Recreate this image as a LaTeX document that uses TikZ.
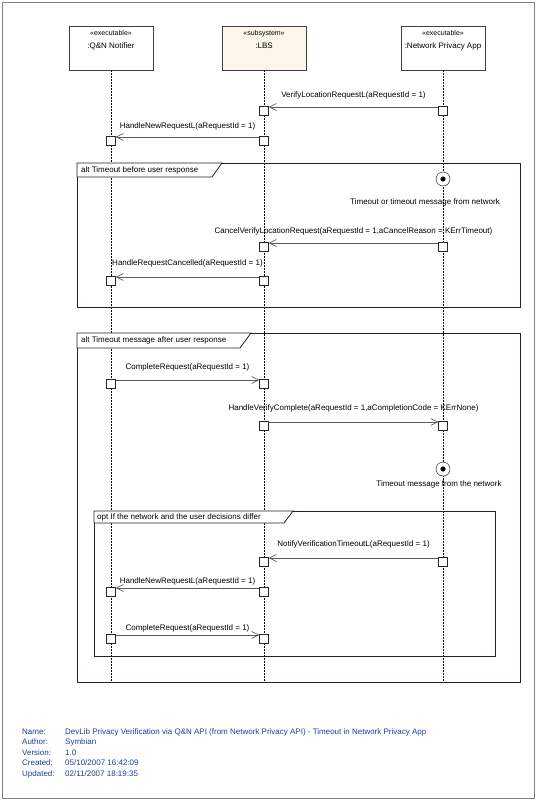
\documentclass[tikz,border=0pt]{standalone}
\usepackage{fontspec}
\setmainfont{Liberation Sans}
\usetikzlibrary{positioning,arrows.meta,calc}

\definecolor{lbsfill}{HTML}{FCF6E8}
\definecolor{footblue}{HTML}{1F3C9C}
\definecolor{framecol}{HTML}{202038}

\tikzset{
  head/.style={draw=black!75, fill=white, minimum width=84pt, minimum height=44pt, inner sep=0pt},
  lifeline/.style={black, dash pattern=on 1.5pt off 1.5pt, line width=0.7pt},
  act/.style={draw=black!85, fill=white, minimum size=9pt, inner sep=0pt, anchor=north},
  msg/.style={draw=black!65, line width=0.9pt, -{Straight Barb[length=7pt,width=7pt,line width=0.6pt]}},
  frm/.style={draw=framecol, line width=0.8pt},
  event/.style={draw, circle, fill=white, minimum size=14pt, inner sep=0pt},
  lbl/.style={font=\fontsize{8}{9}\selectfont, inner sep=0pt},
  stereo/.style={font=\fontsize{7}{8}\selectfont, inner sep=0pt},
}

\begin{document}
\begin{tikzpicture}[x=1pt, y=-1pt]
    \useasboundingbox (0,0) rectangle (536,800);
    \draw[black!50] (2,2) rectangle (534,798);

    % lifeline heads
    \node[head] (qn) at (111,48) {};
    \node[head, fill=lbsfill] (lbs) at (264,48) {};
    \node[head] (npa) at (443,48) {};
    \node[stereo, below=4pt of qn.north] {«executable»};
    \node[lbl, below=17pt of qn.north] {:Q\&N Notifier};
    \node[stereo, below=4pt of lbs.north] {«subsystem»};
    \node[lbl, below=17pt of lbs.north] {:LBS};
    \node[stereo, below=4pt of npa.north] {«executable»};
    \node[lbl, below=17pt of npa.north] {:Network Privacy App};

    % lifelines
    \coordinate (qnend) at (111,682);
    \coordinate (lbsend) at (264,682);
    \coordinate (npaend) at (443,682);
    \draw[lifeline] (qn) -- (qnend);
    \draw[lifeline] (lbs) -- (lbsend);
    \draw[lifeline] (npa) -- (npaend);

    % frames
    \draw[frm] (77,163) rectangle (520,307);
    \draw[frm, fill=white] (77,163) -- (222,163) -- (212,177) -- (77,177) -- cycle;
    \node[lbl, anchor=west] (alt1) at (81,170) {alt Timeout before user response};

    \draw[frm] (77,333) rectangle (520,682);
    \draw[frm, fill=white] (77,333) -- (251,333) -- (240,348) -- (77,348) -- cycle;
    \node[lbl, anchor=west] (alt2) at (81,340.5) {alt Timeout message after user response};

    \draw[frm] (94,511) rectangle (495,656);
    \draw[frm, fill=white] (94,511) -- (293,511) -- (284,523) -- (94,523) -- cycle;
    \node[lbl, anchor=west] (opt1) at (97,517) {opt If the network and the user decisions differ};

    % activations
    \node[act] (n1) at (443,106) {};
    \node[act] (l1) at (264,106) {};
    \node[act] (l2) at (264,136) {};
    \node[act] (q2) at (111,136) {};
    \node[act] (n3) at (443,242) {};
    \node[act] (l3) at (264,242) {};
    \node[act] (l4) at (264,276) {};
    \node[act] (q4) at (111,276) {};
    \node[act] (q5) at (111,379) {};
    \node[act] (l5) at (264,379) {};
    \node[act] (l6) at (264,421) {};
    \node[act] (n6) at (443,421) {};
    \node[act] (n7) at (443,557) {};
    \node[act] (l7) at (264,557) {};
    \node[act] (l8) at (264,587) {};
    \node[act] (q8) at (111,587) {};
    \node[act] (q9) at (111,634) {};
    \node[act] (l9) at (264,634) {};

    % messages
    \draw[msg] ([yshift=-1pt]n1.north west) -- node[lbl, midway, above=7pt] {VerifyLocationRequestL(aRequestId = 1)} ([yshift=-1pt]l1.north east);
    \draw[msg] ([yshift=-1pt]l2.north west) -- node[lbl, midway, above=6.5pt] {HandleNewRequestL(aRequestId = 1)} ([yshift=-1pt]q2.north east);
    \draw[msg] ([yshift=-1pt]n3.north west) -- node[lbl, midway, above=7pt] {CancelVerifyLocationRequest(aRequestId = 1,aCancelReason = KErrTimeout)} ([yshift=-1pt]l3.north east);
    \draw[msg] ([yshift=-1pt]l4.north west) -- node[lbl, midway, above=9pt] {HandleRequestCancelled(aRequestId = 1)} ([yshift=-1pt]q4.north east);
    \draw[msg] ([yshift=-1pt]q5.north east) -- node[lbl, midway, above=8pt] {CompleteRequest(aRequestId = 1)} ([yshift=-1pt]l5.north west);
    \draw[msg] ([yshift=-1pt]l6.north east) -- node[lbl, midway, above=9pt] {HandleVerifyComplete(aRequestId = 1,aCompletionCode = KErrNone)} ([yshift=-1pt]n6.north west);
    \draw[msg] ([yshift=-1pt]n7.north west) -- node[lbl, midway, above=9pt] {NotifyVerificationTimeoutL(aRequestId = 1)} ([yshift=-1pt]l7.north east);
    \draw[msg] ([yshift=-1pt]l8.north west) -- node[lbl, midway, above=2pt] {HandleNewRequestL(aRequestId = 1)} ([yshift=-1pt]q8.north east);
    \draw[msg] ([yshift=-1pt]q9.north east) -- node[lbl, midway, above=2pt] {CompleteRequest(aRequestId = 1)} ([yshift=-1pt]l9.north west);

    % events
    \node[event] (ev1) at (443,179) {};
    \fill (ev1.center) circle (2.6);
    \node[lbl, below=12pt of ev1, xshift=-18pt] {Timeout or timeout message from network};
    \node[event] (ev2) at (443,469) {};
    \fill (ev2.center) circle (2.6);
    \node[lbl, below=4pt of ev2, xshift=-4pt] {Timeout message from the network};

    % footer
    \node[anchor=north west, inner sep=0pt, text=footblue, font=\fontsize{8}{10.4}\selectfont] (info) at (22,727)
      {\begin{tabular}{@{}p{43pt}@{}l@{}}
       Name: & DevLib Privacy Verification via Q\&N API (from Network Privacy API) - Timeout in Network Privacy App\\
       Author: & Symbian\\
       Version: & 1.0\\
       Created: & 05/10/2007 16:42:09\\
       Updated: & 02/11/2007 18:19:35
       \end{tabular}};
\end{tikzpicture}
\end{document}
